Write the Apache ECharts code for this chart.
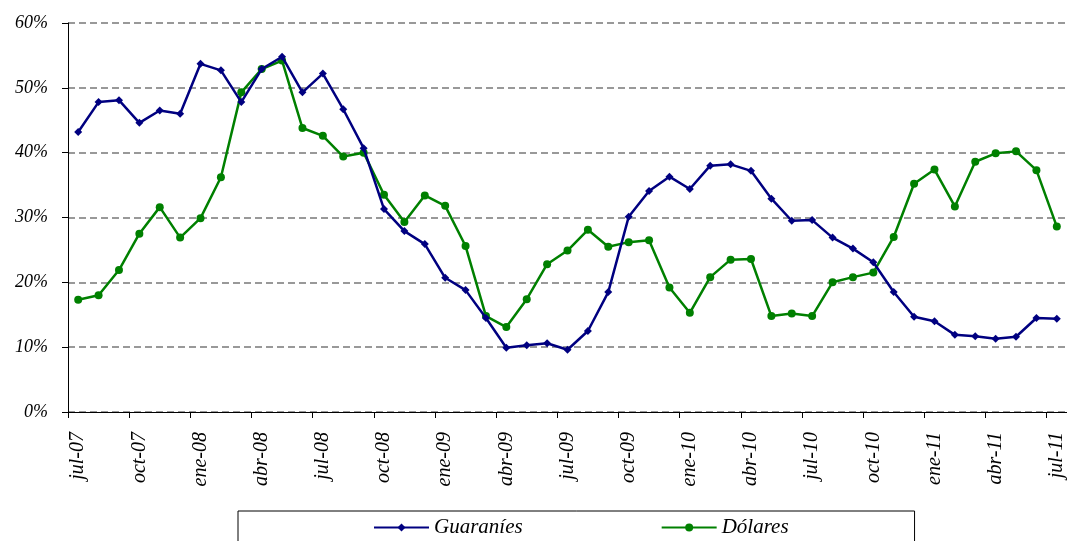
<!DOCTYPE html>
<html><head><meta charset="utf-8">
<script src="https://cdn.jsdelivr.net/npm/echarts@6/dist/echarts.min.js"></script>
<style>html,body{margin:0;padding:0;background:#fff}#c{width:1067px;height:541px}</style>
</head><body><div id="c"></div>
<script>
const months = ['jul','ago','sep','oct','nov','dic','ene','feb','mar','abr','may','jun'];
const categories = [];
(function(){ let m=0, y=7; for(let i=0;i<49;i++){ categories.push(months[m]+'-'+String(y).padStart(2,'0')); m++; if(m===6) y++; if(m===12) m=0; } })();
const guaranies = [43.2,47.8,48.1,44.6,46.5,46.0,53.7,52.7,47.8,52.9,54.8,49.3,52.2,46.7,40.7,31.3,27.9,25.9,20.7,18.8,14.5,9.9,10.3,10.6,9.6,12.5,18.5,30.1,34.1,36.3,34.4,38.0,38.2,37.2,32.9,29.5,29.6,26.9,25.2,23.1,18.5,14.7,14.0,11.9,11.7,11.3,11.6,14.5,14.4];
const dolares = [17.3,18.0,21.9,27.5,31.6,26.9,29.9,36.2,49.3,52.9,54.2,43.8,42.6,39.4,40.0,33.5,29.3,33.4,31.8,25.6,14.8,13.1,17.4,22.8,24.9,28.1,25.5,26.2,26.5,19.2,15.3,20.8,23.5,23.6,14.8,15.2,14.8,20.0,20.8,21.5,27.0,35.2,37.4,31.7,38.6,39.9,40.2,37.3,28.6];
const yTicks = {min:0, max:60, interval:10};
const FONT = '"Liberation Serif", "DejaVu Serif", serif';
const chart = echarts.init(document.getElementById('c'));
chart.setOption({
  animation:false,
  backgroundColor:'#fff',
  grid:{left:68, right:0, top:23, bottom:129, containLabel:false},
  legend:{
    top:511, left:238,
    data:['Guaraníes','Dólares'],
    borderColor:'#000', borderWidth:1,
    padding:[6,126,24,135],
    itemGap:138, itemWidth:55, itemHeight:10,
    textStyle:{fontFamily:FONT, fontStyle:'italic', fontSize:21, color:'#000'}
  },
  xAxis:{
    type:'category', data:categories, boundaryGap:true,
    axisLine:{lineStyle:{color:'#000', width:1}},
    axisTick:{show:true, interval:2, length:6, lineStyle:{color:'#000'}},
    axisLabel:{interval:2, rotate:90, margin:20, fontFamily:FONT, fontStyle:'italic', fontSize:20, color:'#000'},
    splitLine:{show:false}
  },
  yAxis:{
    type:'value', min:yTicks.min, max:yTicks.max, interval:yTicks.interval,
    axisLine:{show:true, lineStyle:{color:'#000', width:1}},
    axisTick:{show:true, length:6, lineStyle:{color:'#000', width:1}},
    axisLabel:{formatter:'{value}%', margin:20, fontFamily:FONT, fontStyle:'italic', fontSize:18, color:'#000'},
    splitLine:{show:true, lineStyle:{color:'#999', width:2, type:[7,4]}}
  },
  series:[
    {name:'Guaraníes', type:'line', data:guaranies, symbol:'diamond', symbolSize:8, color:'#000080',
     lineStyle:{width:2.5, color:'#000080'}, itemStyle:{color:'#000080'}, z:3},
    {name:'Dólares', type:'line', data:dolares, symbol:'circle', symbolSize:8, color:'#008000',
     lineStyle:{width:2.5, color:'#008000'}, itemStyle:{color:'#008000'}, z:2}
  ]
});
</script></body></html>
